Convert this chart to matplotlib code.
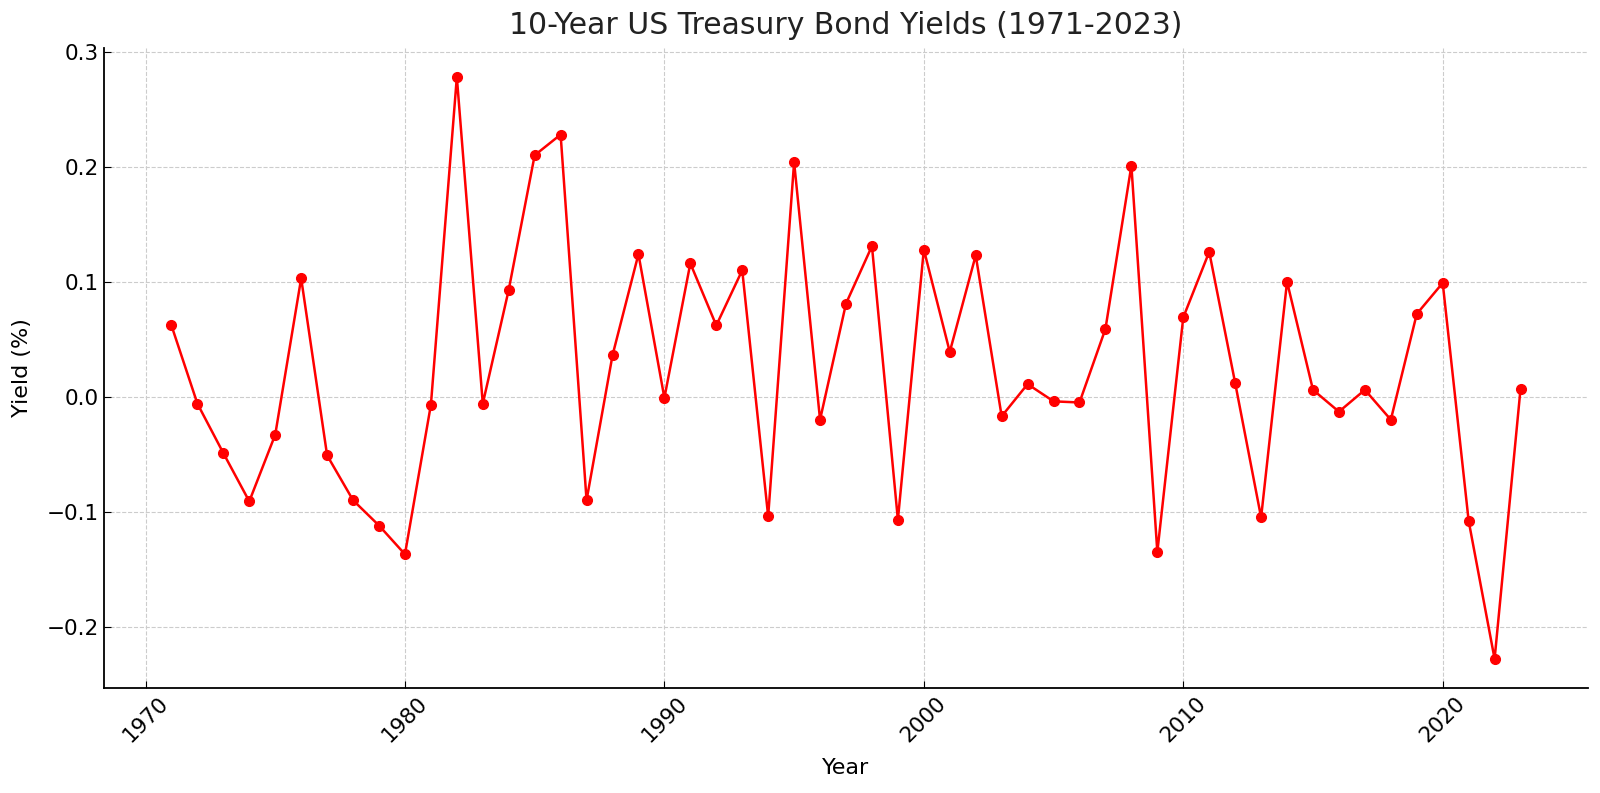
import matplotlib
matplotlib.use("Agg")
import matplotlib.pyplot as plt

years = list(range(1971, 2024))
yields = [0.062, -0.006, -0.049, -0.091, -0.033, 0.103, -0.051, -0.090, -0.112, -0.137,
          -0.007, 0.278, -0.006, 0.093, 0.210, 0.228, -0.090, 0.036, 0.124, -0.001,
          0.116, 0.062, 0.110, -0.104, 0.204, -0.020, 0.081, 0.131, -0.107, 0.128,
          0.039, 0.123, -0.017, 0.011, -0.004, -0.005, 0.059, 0.201, -0.135, 0.069,
          0.126, 0.012, -0.105, 0.100, 0.006, -0.013, 0.006, -0.020, 0.072, 0.099,
          -0.108, -0.228, 0.007]

fig = plt.figure(figsize=(16, 7.93), dpi=100)
ax = fig.add_axes([0.065, 0.1324, 0.9275, 0.8071])
ax.plot(years, yields, color='red', marker='o', markersize=7, linewidth=1.8)
ax.set_title('10-Year US Treasury Bond Yields (1971-2023)', fontsize=21.5, color='#222222', pad=10)
ax.set_xlabel('Year', fontsize=16, labelpad=9)
ax.set_ylabel('Yield (%)', fontsize=16, labelpad=11)
ax.grid(True, linestyle='--', color='#cccccc', linewidth=0.8)
ax.spines['top'].set_visible(False)
ax.spines['right'].set_visible(False)
ax.spines['left'].set_linewidth(1.3)
ax.spines['bottom'].set_linewidth(1.3)
ax.tick_params(direction='in', labelsize=15.5, length=5)
plt.setp(ax.get_xticklabels(), rotation=45)
fig.savefig('out.png', dpi=100)
